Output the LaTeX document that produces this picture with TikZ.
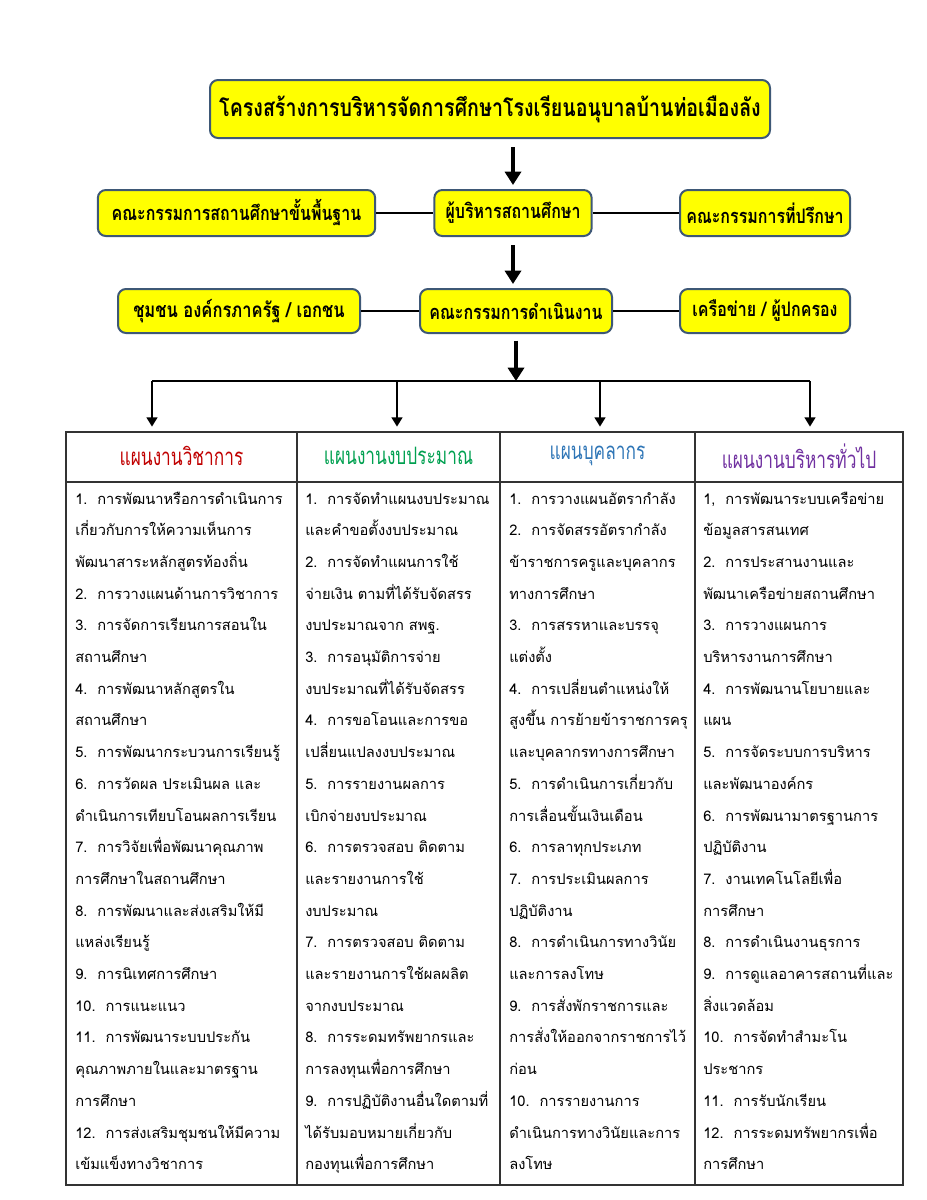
\documentclass[tikz,border=0pt]{standalone}
\usepackage{fontspec}
\usetikzlibrary{arrows.meta}
\newfontfamily\thaifont[Script=Thai]{Loma}
\newfontfamily\thaicond[Script=Thai,FakeStretch=0.8]{Loma}
\newfontfamily\thaihead[Script=Thai,FakeStretch=0.72]{Loma}
\definecolor{boxyellow}{RGB}{255,255,0}
\definecolor{boxedge}{RGB}{62,88,118}
\definecolor{headred}{RGB}{192,0,0}
\definecolor{headgreen}{RGB}{0,160,80}
\definecolor{headblue}{RGB}{46,117,182}
\definecolor{headpurple}{RGB}{112,48,160}
\tikzset{
	unitbox/.style={draw=boxedge, line width=1.5pt, fill=boxyellow, rounded corners=6pt, inner sep=0pt, font=\thaicond\bfseries\fontsize{15}{17}\selectfont},
	bigarrow/.style={line width=3pt, -{Triangle[length=10pt,width=12pt]}},
	smallarrow/.style={line width=2pt, -{Triangle[length=7pt,width=8pt]}},
	link/.style={line width=2pt},
	planhead/.style={inner sep=0pt, font=\thaihead\fontsize{18}{20}\selectfont},
	plantext/.style={anchor=base west, inner sep=0pt, font=\thaifont\fontsize{11}{13}\selectfont},
}
\begin{document}
\begin{tikzpicture}[x=0.75pt,y=-0.75pt]
	\useasboundingbox (0,0) rectangle (927,1200);

	% top of the chart
	\node[unitbox, minimum width=420pt, minimum height=43.5pt, font=\thaicond\bfseries\fontsize{18.4}{21}\selectfont] (title) at (490,109) {โครงสร้างการบริหารจัดการศึกษาโรงเรียนอนุบาลบ้านท่อเมืองลัง};
	\node[unitbox, minimum width=208pt, minimum height=34.5pt] (board) at (236.5,213) {คณะกรรมการสถานศึกษาขั้นพื้นฐาน};
	\node[unitbox, minimum width=118pt, minimum height=34.5pt] (mgr) at (513,213) {ผู้บริหารสถานศึกษา};
	\node[unitbox, minimum width=127.5pt, minimum height=34.5pt] (advice) at (765,213) {คณะกรรมการที่ปรึกษา};
	\node[unitbox, minimum width=181.5pt, minimum height=33pt, font=\thaicond\bfseries\fontsize{15.5}{17}\selectfont] (public) at (239,311) {ชุมชน องค์กรภาครัฐ / เอกชน};
	\node[unitbox, minimum width=144pt, minimum height=33pt] (ops) at (516,311) {คณะกรรมการดำเนินงาน};
	\node[unitbox, minimum width=127.5pt, minimum height=33pt] (parents) at (765,311) {เครือข่าย / ผู้ปกครอง};

	\draw[bigarrow, shorten <=6pt, shorten >=3pt] (title.south -| mgr) -- (mgr.north);
	\draw[bigarrow, shorten <=6pt, shorten >=3pt] (mgr.south) -- (mgr.south |- ops.north);
	\draw[link] (board.east) -- (mgr.west);
	\draw[link] (mgr.east) -- (advice.west);
	\draw[link] (public.east) -- (ops.west);
	\draw[link] (ops.east) -- (parents.west);

	% fork to the four plans
	\coordinate (fork) at (517,381);
	\coordinate (d1) at (152,381);
	\coordinate (d2) at (397,381);
	\coordinate (d3) at (600,381);
	\coordinate (d4) at (810,381);
	\coordinate (tl) at (66,432);
	\coordinate (br) at (903,1185);
	\draw[bigarrow, shorten <=5pt] (ops.south) -- (ops.south |- fork);
	\draw[link] (d1) -- (d4);
	\draw[smallarrow, shorten >=4pt] (d1) -- (d1 |- tl);
	\draw[smallarrow, shorten >=4pt] (d2) -- (d2 |- tl);
	\draw[smallarrow, shorten >=4pt] (d3) -- (d3 |- tl);
	\draw[smallarrow, shorten >=4pt] (d4) -- (d4 |- tl);

	% table
	\draw[line width=1pt, black!80] (tl) rectangle (br);
	\draw[line width=1pt, black!80] (66,482) -- (903,482);
	\draw[line width=1pt, black!80] (297,432) -- (297,1185);
	\draw[line width=1pt, black!80] (500,432) -- (500,1185);
	\draw[line width=1pt, black!80] (695,432) -- (695,1185);

	\node[planhead, headred] (h1) at (181.5,456) {แผนงานวิชาการ};
	\node[planhead, headgreen] (h2) at (398.5,456) {แผนงานงบประมาณ};
	\node[planhead, headblue] (h3) at (597.5,456) {แผนบุคลากร};
	\node[planhead, headpurple] (h4) at (799,456) {แผนงานบริหารทั่วไป};

	\foreach \t [count=\i] in {1.\ \ การพัฒนาหรือการดำเนินการ, เกี่ยวกับการให้ความเห็นการ, พัฒนาสาระหลักสูตรท้องถิ่น, 2.\ \ การวางแผนด้านการวิชาการ, 3.\ \ การจัดการเรียนการสอนใน, สถานศึกษา, 4.\ \ การพัฒนาหลักสูตรใน, สถานศึกษา, 5.\ \ การพัฒนากระบวนการเรียนรู้, 6.\ \ การวัดผล ประเมินผล และ, ดำเนินการเทียบโอนผลการเรียน, 7.\ \ การวิจัยเพื่อพัฒนาคุณภาพ, การศึกษาในสถานศึกษา, 8.\ \ การพัฒนาและส่งเสริมให้มี, แหล่งเรียนรู้, 9.\ \ การนิเทศการศึกษา, 10.\ \ การแนะแนว, 11.\ \ การพัฒนาระบบประกัน, คุณภาพภายในและมาตรฐาน, การศึกษา, 12.\ \ การส่งเสริมชุมชนให้มีความ, เข้มแข็งทางวิชาการ}
		\node[plantext] (a\i) at (75,{472.3+31.7*\i}) {\t};

	\foreach \t [count=\i] in {1.\ \ การจัดทำแผนงบประมาณ, และคำขอตั้งงบประมาณ, 2.\ \ การจัดทำแผนการใช้, จ่ายเงิน ตามที่ได้รับจัดสรร, งบประมาณจาก สพฐ., 3.\ \ การอนุมัติการจ่าย, งบประมาณที่ได้รับจัดสรร, 4.\ \ การขอโอนและการขอ, เปลี่ยนแปลงงบประมาณ, 5.\ \ การรายงานผลการ, เบิกจ่ายงบประมาณ, 6.\ \ การตรวจสอบ ติดตาม, และรายงานการใช้, งบประมาณ, 7.\ \ การตรวจสอบ ติดตาม, และรายงานการใช้ผลผลิต, จากงบประมาณ, 8.\ \ การระดมทรัพยากรและ, การลงทุนเพื่อการศึกษา, 9.\ \ การปฏิบัติงานอื่นใดตามที่, ได้รับมอบหมายเกี่ยวกับ, กองทุนเพื่อการศึกษา}
		\node[plantext] (b\i) at (305,{472.3+31.7*\i}) {\t};

	\foreach \t [count=\i] in {1.\ \ การวางแผนอัตรากำลัง, 2.\ \ การจัดสรรอัตรากำลัง, ข้าราชการครูและบุคลากร, ทางการศึกษา, 3.\ \ การสรรหาและบรรจุ, แต่งตั้ง, 4.\ \ การเปลี่ยนตำแหน่งให้, สูงขึ้น การย้ายข้าราชการครุ, และบุคลากรทางการศึกษา, 5.\ \ การดำเนินการเกี่ยวกับ, การเลื่อนขั้นเงินเดือน, 6.\ \ การลาทุกประเภท, 7.\ \ การประเมินผลการ, ปฏิบัติงาน, 8.\ \ การดำเนินการทางวินัย, และการลงโทษ, 9.\ \ การสั่งพักราชการและ, การสั่งให้ออกจากราชการไว้, ก่อน, 10.\ \ การรายงานการ, ดำเนินการทางวินัยและการ, ลงโทษ}
		\node[plantext] (c\i) at (509,{472.3+31.7*\i}) {\t};

	\foreach \t [count=\i] in {{1,\ \ การพัฒนาระบบเครือข่าย}, ข้อมูลสารสนเทศ, 2.\ \ การประสานงานและ, พัฒนาเครือข่ายสถานศึกษา, 3.\ \ การวางแผนการ, บริหารงานการศึกษา, 4.\ \ การพัฒนานโยบายและ, แผน, 5.\ \ การจัดระบบการบริหาร, และพัฒนาองค์กร, 6.\ \ การพัฒนามาตรฐานการ, ปฏิบัติงาน, 7.\ \ งานเทคโนโลยีเพื่อ, การศึกษา, 8.\ \ การดำเนินงานธุรการ, 9.\ \ การดูแลอาคารสถานที่และ, สิ่งแวดล้อม, 10.\ \ การจัดทำสำมะโน, ประชากร, 11.\ \ การรับนักเรียน, 12.\ \ การระดมทรัพยากรเพื่อ, การศึกษา}
		\node[plantext] (e\i) at (703,{472.3+31.7*\i}) {\t};
\end{tikzpicture}
\end{document}
